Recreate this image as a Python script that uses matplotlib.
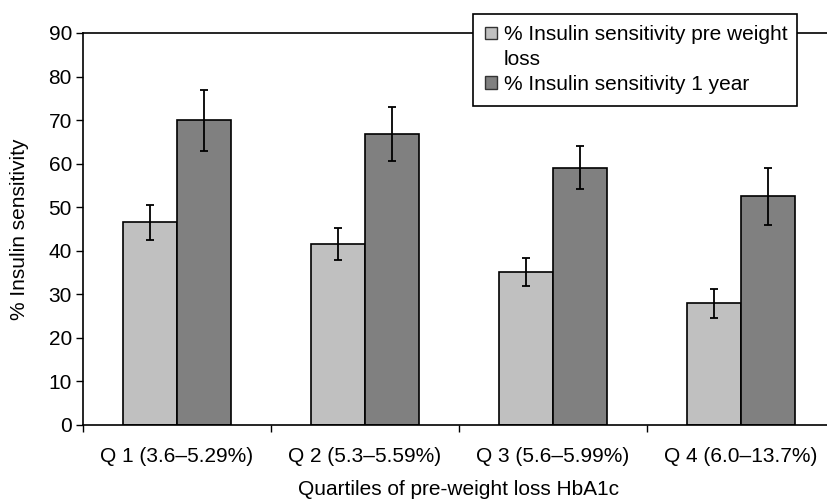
import numpy as np
import matplotlib.pyplot as plt
from matplotlib.patches import Rectangle, Patch

plt.rcParams['font.family'] = ['Liberation Sans', 'DejaVu Sans']

# data
quartiles = ['Q 1 (3.6\u20135.29%)', 'Q 2 (5.3\u20135.59%)', 'Q 3 (5.6\u20135.99%)', 'Q 4 (6.0\u201313.7%)']
pre_loss = [46.5, 41.5, 35.1, 27.9]
pre_err = [4.1, 3.7, 3.3, 3.3]
one_year = [70.0, 66.8, 59.1, 52.5]
one_year_err = [7.0, 6.3, 5.0, 6.6]
series_names = ['% Insulin sensitivity pre weight', '% Insulin sensitivity 1 year']
light, dark = '#c0c0c0', '#808080'

fig = plt.figure(figsize=(8.28, 5.01), dpi=100)
ax = fig.add_axes([83/828, 1 - 425/501, 752/828, 392/501])

x = np.arange(len(quartiles))
w = 0.287
err_style = dict(ecolor='black', elinewidth=1.3, capsize=3, capthick=1.3)
ax.bar(x - w/2, pre_loss, w, yerr=pre_err, color=light, edgecolor='black',
       linewidth=1.2, error_kw=err_style)
ax.bar(x + w/2, one_year, w, yerr=one_year_err, color=dark, edgecolor='black',
       linewidth=1.2, error_kw=err_style)

ax.set_xlim(-0.5, len(quartiles) - 0.5)
ax.set_ylim(0, 90)
ax.set_yticks(range(0, 91, 10))
ax.tick_params(axis='y', labelsize=15, length=5, width=1, direction='out', pad=3)

# ticks between categories, labels at category centres
ax.set_xticks(np.arange(len(quartiles) + 1) - 0.5)
ax.set_xticklabels([])
ax.tick_params(axis='x', which='major', length=5, width=1, direction='out')
ax.set_xticks(x, minor=True)
ax.set_xticklabels(quartiles, minor=True)
ax.tick_params(axis='x', which='minor', length=0, labelsize=15, pad=16)

for s in ax.spines.values():
    s.set_linewidth(1.2)

ax.set_ylabel('% Insulin sensitivity', fontsize=15, labelpad=14)
ax.set_xlabel('Quartiles of pre-weight loss HbA1c', fontsize=15, labelpad=10)

# legend box (the first label wraps onto a second line)
fig.patches.append(Rectangle((473/828, 1 - 106/501), 324/828, 92/501,
                             transform=fig.transFigure, facecolor='white',
                             edgecolor='black', linewidth=1.2, zorder=5))
handles = [Patch(facecolor=light, edgecolor='#333333', linewidth=1),
           Patch(facecolor='none', edgecolor='none'),
           Patch(facecolor=dark, edgecolor='#333333', linewidth=1)]
labels = [series_names[0], 'loss', series_names[1]]
leg = fig.legend(handles, labels, loc='upper left', bbox_to_anchor=(481/828, 1 - 21/501),
                 frameon=False, fontsize=15, handlelength=0.55, handleheight=0.55,
                 handletextpad=0.35, labelspacing=0.28, borderpad=0.2, borderaxespad=0)
leg.set_zorder(6)

fig.savefig('out.png', dpi=100)
